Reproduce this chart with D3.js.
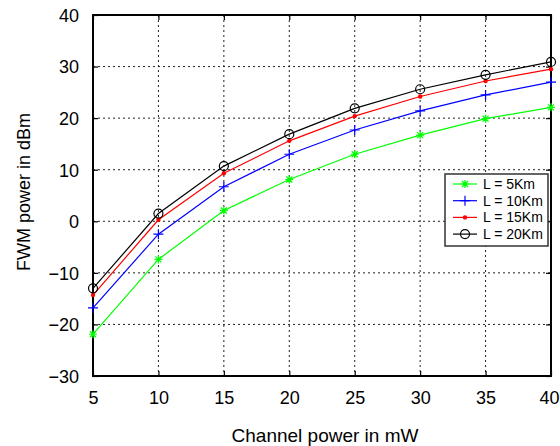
<!DOCTYPE html>
<html>
<head>
<meta charset="utf-8">
<script src="https://cdn.jsdelivr.net/npm/d3@7"></script>
<style>
  body { margin: 0; background: #fff; }
  text { font-family: "Liberation Sans", Arial, sans-serif; fill: #000; }
</style>
</head>
<body>
<svg id="chart" width="560" height="446"></svg>
<script>
// channel power (mW)
const channelPower = [5, 10, 15, 20, 25, 30, 35, 40];

// FWM power (dBm) for each fibre length
const fwm5km  = [-21.9, -7.4, 2.1, 8.1, 13.0, 16.7, 19.9, 22.1];
const fwm10km = [-16.8, -2.5, 6.7, 13.0, 17.7, 21.4, 24.5, 27.0];
const fwm15km = [-14.3, 0.3, 9.3, 15.6, 20.4, 24.2, 27.2, 29.5];
const fwm20km = [-13.0, 1.5, 10.7, 16.9, 21.9, 25.6, 28.4, 30.9];

const seriesNames = ["L = 5Km", "L = 10Km", "L = 15Km", "L = 20Km"];
const seriesValues = [fwm5km, fwm10km, fwm15km, fwm20km];
const seriesColors = ["#00ff00", "#0000ff", "#ff0000", "#000000"];
const seriesMarkers = ["star", "plus", "dot", "circle"];

const xTicks = [5, 10, 15, 20, 25, 30, 35, 40];
const yTicks = [-30, -20, -10, 0, 10, 20, 30, 40];

const margin = { top: 15, right: 9, bottom: 70, left: 93 };

const chart = d3.select("#chart");
const width = +chart.attr("width");
const height = +chart.attr("height");
const innerW = width - margin.left - margin.right;
const innerH = height - margin.top - margin.bottom;

const svg = chart.append("g")
    .attr("transform", `translate(${margin.left},${margin.top})`);

const xScale = d3.scaleLinear().domain([5, 40]).range([0, innerW]);
const yScale = d3.scaleLinear().domain([-30, 40]).range([innerH, 0]);

// dotted grid
svg.append("g")
    .selectAll("line")
    .data(xTicks.slice(1, -1))
    .join("line")
    .attr("x1", d => xScale(d)).attr("x2", d => xScale(d))
    .attr("y1", 0).attr("y2", innerH)
    .attr("stroke", "#222").attr("stroke-width", 1)
    .attr("stroke-dasharray", "2,3");

svg.append("g")
    .selectAll("line")
    .data(yTicks.slice(1, -1))
    .join("line")
    .attr("y1", d => yScale(d)).attr("y2", d => yScale(d))
    .attr("x1", 0).attr("x2", innerW)
    .attr("stroke", "#222").attr("stroke-width", 1)
    .attr("stroke-dasharray", "2,3");

// axes (ticks point inward, like matlab)
const xAxis = d3.axisBottom(xScale).tickValues(xTicks).tickSize(-5).tickPadding(14);
const yAxis = d3.axisLeft(yScale).tickValues(yTicks).tickSize(-5).tickPadding(14);

const gx = svg.append("g")
    .attr("transform", `translate(0,${innerH})`)
    .call(xAxis);
const gy = svg.append("g").call(yAxis);

svg.append("g").call(d3.axisTop(xScale).tickValues(xTicks).tickSize(-5).tickFormat(""));
svg.append("g").attr("transform", `translate(${innerW},0)`)
    .call(d3.axisRight(yScale).tickValues(yTicks).tickSize(-5).tickFormat(""));

svg.selectAll(".domain").remove();
svg.selectAll(".tick line").attr("stroke", "#000").attr("stroke-width", 1.2);

gx.selectAll("text").attr("font-size", 18).attr("dy", "0.75em");
gy.selectAll("text").attr("font-size", 18).attr("dy", "0.35em");
svg.selectAll(".tick text").attr("font-family", "Liberation Sans, Arial, sans-serif");
// last x label sits against the right edge
gx.selectAll(".tick text").filter(d => d === 40).attr("dx", -2);

// frame
svg.append("rect")
    .attr("x", 0).attr("y", 0)
    .attr("width", innerW).attr("height", innerH)
    .attr("fill", "none")
    .attr("stroke", "#000").attr("stroke-width", 2);

// marker drawing
function drawMarker(g, type, color, x, y) {
    if (type === "star") {
        const s = 4;
        g.append("path")
            .attr("d", `M${x - s},${y}H${x + s}M${x},${y - s}V${y + s}M${x - 3},${y - 3}L${x + 3},${y + 3}M${x - 3},${y + 3}L${x + 3},${y - 3}`)
            .attr("stroke", color).attr("stroke-width", 1.2).attr("fill", "none");
    } else if (type === "plus") {
        const s = 5;
        g.append("path")
            .attr("d", `M${x - s},${y}H${x + s}M${x},${y - s}V${y + s}`)
            .attr("stroke", color).attr("stroke-width", 1.2).attr("fill", "none");
    } else if (type === "dot") {
        g.append("circle").attr("cx", x).attr("cy", y).attr("r", 2.2).attr("fill", color);
    } else {
        g.append("circle").attr("cx", x).attr("cy", y).attr("r", 4.5)
            .attr("fill", "none").attr("stroke", color).attr("stroke-width", 1.2);
    }
}

const line = d3.line()
    .x(d => xScale(d.x))
    .y(d => yScale(d.y));

seriesValues.forEach((vals, i) => {
    const pts = vals.map((v, j) => ({ x: channelPower[j], y: v }));
    const g = svg.append("g");
    g.append("path")
        .datum(pts)
        .attr("d", line)
        .attr("fill", "none")
        .attr("stroke", seriesColors[i])
        .attr("stroke-width", 1.2);
    pts.forEach(p => drawMarker(g, seriesMarkers[i], seriesColors[i], xScale(p.x), yScale(p.y)));
});

// legend
const legend = chart.append("g").attr("transform", "translate(445,174)");
legend.append("rect")
    .attr("width", 103).attr("height", 72)
    .attr("fill", "#fff")
    .attr("stroke", "#333").attr("stroke-width", 1.5);

seriesNames.forEach((name, i) => {
    const y = 10 + i * 16.7;
    legend.append("line")
        .attr("x1", 8).attr("x2", 32)
        .attr("y1", y).attr("y2", y)
        .attr("stroke", seriesColors[i]).attr("stroke-width", 1.2);
    drawMarker(legend, seriesMarkers[i], seriesColors[i], 20, y);
    legend.append("text")
        .attr("x", 38).attr("y", y)
        .attr("dy", "0.36em")
        .attr("font-size", 14)
        .text(name);
});

// axis titles
chart.append("text")
    .attr("x", margin.left + innerW / 2 + 3)
    .attr("y", 442)
    .attr("text-anchor", "middle")
    .attr("font-size", 19)
    .text("Channel power in mW");

chart.append("text")
    .attr("transform", "translate(30,192) rotate(-90)")
    .attr("text-anchor", "middle")
    .attr("font-size", 18)
    .text("FWM power in dBm");
</script>
</body>
</html>
